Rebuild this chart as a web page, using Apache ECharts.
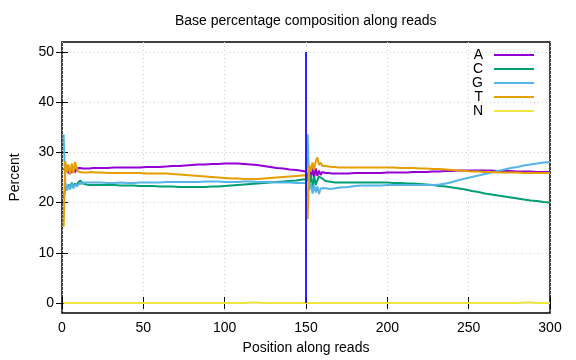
<!DOCTYPE html>
<html>
<head>
<meta charset="utf-8">
<script src="https://cdn.jsdelivr.net/npm/echarts@6/dist/echarts.min.js"></script>
<style>
html,body{margin:0;padding:0;background:#fff;}
#chart{width:576px;height:360px;}
</style>
</head>
<body>
<div id="chart"></div>
<script>
// Positions along reads (read 1: 1-150, read 2: 151-300)
var positions = [
  1,2,3,4,5,6,7,8,9,10,11,12,13,14,15,16,17,18,19,20,
  24,28,32,36,40,44,48,52,56,60,64,68,72,76,80,84,88,92,96,100,104,108,112,116,120,124,128,132,136,140,144,148,
  149,150,
  151,152,153,154,155,156,157,158,159,160,161,162,163,164,165,166,167,168,169,170,171,172,
  176,180,184,188,192,196,200,204,208,212,216,220,224,228,232,236,240,244,248,252,256,260,264,268,272,276,280,284,288,292,296,300
];
var baseA = [
  26.5,26.3,27.4,25.8,26.9,25.9,27.2,26.0,26.8,26.5,26.9,26.7,26.8,26.9,26.8,26.9,26.8,26.9,26.9,26.9,
  26.9,26.9,27.0,27.0,27.0,27.0,27.0,27.1,27.1,27.1,27.2,27.3,27.3,27.4,27.5,27.6,27.6,27.7,27.7,27.8,27.8,27.8,27.7,27.6,27.5,27.3,27.1,26.9,26.8,26.6,26.5,26.3,
  26.2,26.2,
  24.5,26.8,24.8,27.0,25.0,26.8,25.3,26.4,25.5,26.1,25.8,25.9,25.8,25.9,25.8,25.8,25.9,25.8,25.8,25.8,25.8,25.8,
  25.8,25.9,25.9,25.9,25.9,25.9,26.0,26.0,26.0,26.0,26.1,26.1,26.1,26.2,26.2,26.3,26.3,26.4,26.4,26.4,26.4,26.4,26.4,26.3,26.3,26.3,26.2,26.2,26.2,26.1,26.1,26.1
];
var baseC = [
  20.8,23.0,22.5,23.6,23.0,24.0,23.2,23.8,23.4,24.0,24.4,24.2,23.8,23.7,23.6,23.6,23.5,23.6,23.5,23.5,
  23.5,23.5,23.5,23.4,23.4,23.4,23.3,23.3,23.3,23.2,23.2,23.2,23.1,23.1,23.1,23.1,23.1,23.2,23.2,23.3,23.4,23.5,23.6,23.7,23.8,23.9,24.0,24.1,24.2,24.3,24.4,24.6,
  24.6,24.6,
  25.0,23.5,25.5,23.0,25.2,23.5,24.5,25.2,25.3,24.8,24.5,24.3,24.2,24.2,24.1,24.1,24.1,24.0,24.0,24.0,24.0,24.0,
  24.0,24.0,24.0,24.0,24.0,24.0,24.0,23.9,23.9,23.8,23.8,23.7,23.6,23.5,23.3,23.2,23.0,22.8,22.6,22.3,22.1,21.8,21.6,21.4,21.2,21.0,20.8,20.6,20.4,20.3,20.1,20.0
];
var baseG = [
  33.6,24.0,22.4,23.5,22.6,23.8,22.8,23.7,23.2,23.6,23.6,23.8,23.9,24.0,23.9,24.0,23.9,24.0,24.0,24.0,
  24.0,23.9,23.9,24.0,23.9,23.9,24.0,24.0,24.0,24.0,24.1,24.1,24.1,24.1,24.1,24.1,24.2,24.2,24.2,24.1,24.1,24.1,24.2,24.2,24.1,24.1,24.1,24.0,24.0,24.0,23.9,23.9,
  23.9,23.9,
  33.6,22.5,24.0,21.8,23.5,22.0,23.2,21.7,22.8,22.6,22.9,22.7,22.8,22.7,22.7,22.7,22.8,22.8,22.9,22.9,23.0,23.0,
  23.1,23.3,23.4,23.4,23.4,23.4,23.5,23.5,23.5,23.5,23.5,23.5,23.5,23.5,23.6,23.8,24.1,24.5,24.8,25.1,25.4,25.7,26.0,26.3,26.6,26.9,27.1,27.4,27.6,27.8,28.0,28.1
];
var baseT = [
  15.2,28.3,26.0,27.6,25.6,27.8,25.9,28.1,26.8,26.2,26.1,26.0,26.1,26.0,26.1,26.0,26.0,26.1,26.0,26.0,
  26.0,25.9,25.9,25.9,25.9,25.9,25.9,25.8,25.8,25.8,25.8,25.7,25.6,25.5,25.4,25.3,25.2,25.1,25.0,24.9,24.8,24.8,24.7,24.7,24.7,24.8,24.9,25.0,25.1,25.2,25.3,25.4,
  25.4,25.4,
  16.7,27.5,26.2,28.0,26.5,28.3,29.0,27.5,28.0,27.3,27.6,27.3,27.2,27.2,27.1,27.1,27.1,27.1,27.0,27.0,27.0,27.0,
  27.0,27.0,27.0,27.0,27.0,27.0,27.0,27.0,26.9,26.9,26.9,26.8,26.8,26.7,26.7,26.6,26.5,26.4,26.3,26.2,26.2,26.1,26.1,26.0,26.0,26.0,26.0,25.9,25.9,25.9,25.9,25.9
];
var baseN = [
  0,0,0,0,0,0,0,0,0,0,0,0,0,0,0,0,0,0,0,0,
  0,0,0,0,0,0,0,0,0,0,0,0,0,0,0,0,0,0,0,0,0,0,0,0.1,0.1,0,0,0,0,0,0,0,
  0,0,
  0,0,0,0,0,0,0,0,0,0,0,0,0,0,0,0,0,0,0,0,0,0,
  0,0,0,0,0,0,0,0,0,0,0,0,0,0,0,0,0,0,0,0,0,0,0,0,0,0,0,0.1,0.1,0,0,0
];
var seriesNames = ['A', 'C', 'G', 'T', 'N'];
var seriesValues = [baseA, baseC, baseG, baseT, baseN];
var seriesColors = ['#9400d3', '#009e73', '#56b4e9', '#e69f00', '#f0e442'];
var readBoundary = 150;
var boundaryRange = [0, 50];
var xTicks = [0, 50, 100, 150, 200, 250, 300];
var yTicks = [0, 10, 20, 30, 40, 50];
var yRange = [-2, 52];

var font = 'Liberation Sans, Arial, sans-serif';

function pairs(vals) {
  return positions.map(function (p, i) { return [p, vals[i]]; });
}

var series = seriesNames.map(function (name, k) {
  return {
    name: name,
    type: 'line',
    data: pairs(seriesValues[k]),
    showSymbol: false,
    symbol: 'none',
    lineStyle: { color: seriesColors[k], width: 2 },
    itemStyle: { color: seriesColors[k] },
    emphasis: { disabled: true },
    z: 3 + k
  };
});
series.push({
  name: 'boundary',
  type: 'line',
  data: [[readBoundary, boundaryRange[0]], [readBoundary, boundaryRange[1]]],
  showSymbol: false,
  symbol: 'none',
  lineStyle: { color: '#1010ff', width: 1.8 },
  itemStyle: { color: '#1010ff' },
  emphasis: { disabled: true },
  z: 10
});

var splitStyle = { show: true, lineStyle: { color: '#cfcfcf', type: [1, 3], width: 1 } };

var chart = echarts.init(document.getElementById('chart'), null, { renderer: 'canvas' });
chart.setOption({
  animation: false,
  backgroundColor: '#fff',
  title: {
    text: 'Base percentage composition along reads',
    left: 175,
    top: 14,
    padding: 0,
    textStyle: { fontFamily: font, fontSize: 14, fontWeight: 'normal', color: '#000' }
  },
  legend: {
    data: seriesNames,
    orient: 'vertical',
    right: 42,
    top: 48,
    padding: 0,
    align: 'right',
    icon: 'rect',
    itemWidth: 40,
    itemHeight: 2,
    itemGap: 0,
    selectedMode: false,
    textStyle: { fontFamily: font, fontSize: 14, color: '#000', lineHeight: 14, padding: [0, 6, 0, 0] }
  },
  grid: {
    left: 60, right: 26, top: 42, bottom: 45,
    show: true, borderColor: '#000', borderWidth: 1.5
  },
  xAxis: [{
    type: 'value', min: xTicks[0], max: xTicks[xTicks.length - 1], interval: 50,
    position: 'bottom',
    name: 'Position along reads', nameLocation: 'middle', nameGap: 28,
    nameTextStyle: { fontFamily: font, fontSize: 14, color: '#000' },
    axisLine: { show: false },
    axisTick: { show: true, inside: true, length: 6, lineStyle: { color: '#000', width: 1 } },
    axisLabel: { fontFamily: font, fontSize: 14, color: '#000', margin: 8 },
    splitLine: splitStyle
  }, {
    type: 'value', min: xTicks[0], max: xTicks[xTicks.length - 1], interval: 50,
    position: 'top',
    axisLine: { show: false },
    axisTick: { show: true, inside: true, length: 6, lineStyle: { color: '#000', width: 1 } },
    axisLabel: { show: false },
    splitLine: { show: false }
  }],
  yAxis: [{
    type: 'value', min: yRange[0], max: yRange[1], splitNumber: 5,
    position: 'left',
    name: 'Percent', nameLocation: 'middle', nameGap: 40,
    nameTextStyle: { fontFamily: font, fontSize: 14, color: '#000' },
    axisLine: { show: false },
    axisTick: { show: true, inside: true, length: 6, customValues: yTicks, lineStyle: { color: '#000', width: 1 } },
    axisLabel: { fontFamily: font, fontSize: 14, color: '#000', margin: 8, customValues: yTicks },
    splitLine: splitStyle
  }, {
    type: 'value', min: yRange[0], max: yRange[1], splitNumber: 5,
    position: 'right',
    axisLine: { show: false },
    axisTick: { show: true, inside: true, length: 6, customValues: yTicks, lineStyle: { color: '#000', width: 1 } },
    axisLabel: { show: false },
    splitLine: { show: false }
  }],
  series: series
});
</script>
</body>
</html>
